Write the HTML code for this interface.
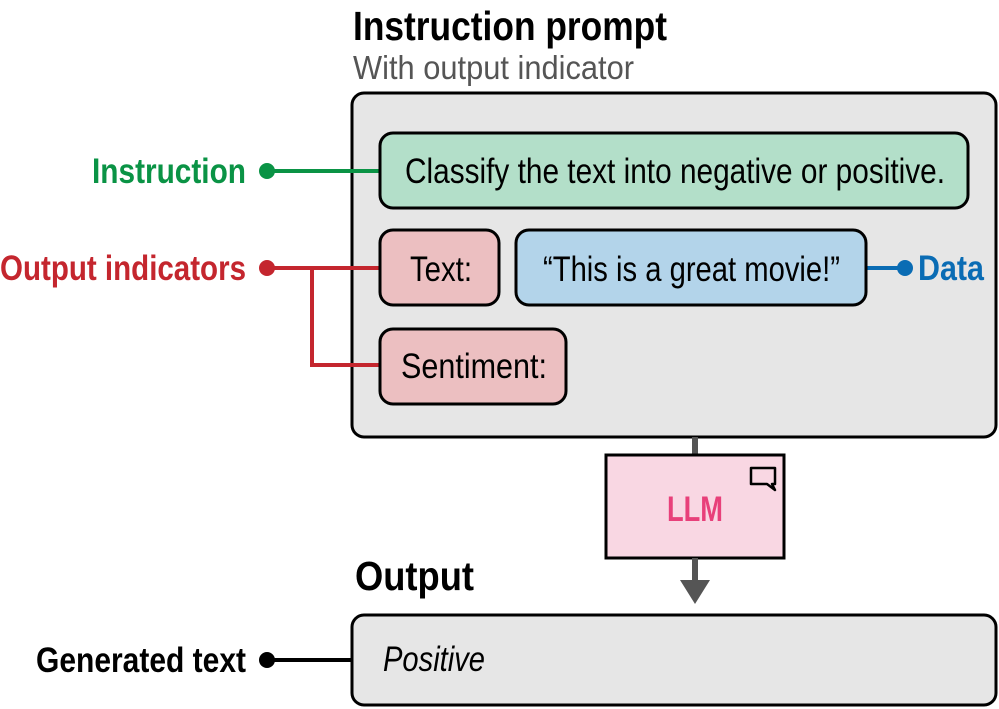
<!DOCTYPE html>
<html><head><style>html,body{margin:0;padding:0;background:#fff}svg{display:block}text{font-family:"Liberation Sans",sans-serif}</style></head>
<body>
<svg width="999" height="709" viewBox="0 0 999 709">
<text x="353" y="40" font-size="41" font-weight="bold" textLength="314" lengthAdjust="spacingAndGlyphs">Instruction prompt</text>
<text x="353" y="79" font-size="33" fill="#555" textLength="281" lengthAdjust="spacingAndGlyphs">With output indicator</text>
<rect x="352" y="93" width="644" height="344" rx="12" fill="#e6e6e6" stroke="#000" stroke-width="3"/>
<line x1="267" y1="171" x2="380" y2="171" stroke="#0a9345" stroke-width="4"/>
<circle cx="267" cy="171" r="8" fill="#0a9345"/>
<polyline points="267,268 380,268" stroke="#c4262e" stroke-width="4" fill="none"/>
<polyline points="312,268 312,365 380,365" stroke="#c4262e" stroke-width="4" fill="none"/>
<circle cx="267" cy="268" r="8" fill="#c4262e"/>
<line x1="866" y1="268" x2="905" y2="268" stroke="#0a6cb4" stroke-width="4"/>
<circle cx="905" cy="268" r="8" fill="#0a6cb4"/>
<line x1="267" y1="660" x2="352" y2="660" stroke="#000" stroke-width="4"/>
<circle cx="267" cy="660" r="8" fill="#000"/>
<text x="246" y="183" font-size="35" font-weight="bold" fill="#0a9345" text-anchor="end" textLength="154" lengthAdjust="spacingAndGlyphs">Instruction</text>
<text x="246" y="280" font-size="35" font-weight="bold" fill="#c4262e" text-anchor="end" textLength="246" lengthAdjust="spacingAndGlyphs">Output indicators</text>
<text x="918" y="280" font-size="35" font-weight="bold" fill="#0a6cb4" textLength="66" lengthAdjust="spacingAndGlyphs">Data</text>
<text x="246" y="672" font-size="35" font-weight="bold" fill="#000" text-anchor="end" textLength="210" lengthAdjust="spacingAndGlyphs">Generated text</text>
<rect x="380" y="133" width="588" height="75" rx="13" fill="#b3dfc9" stroke="#000" stroke-width="3"/>
<text x="405" y="183" font-size="35" textLength="540" lengthAdjust="spacingAndGlyphs">Classify the text into negative or positive.</text>
<rect x="380" y="230" width="119" height="75" rx="13" fill="#ecbfc1" stroke="#000" stroke-width="3"/>
<text x="410" y="281" font-size="35" textLength="62" lengthAdjust="spacingAndGlyphs">Text:</text>
<rect x="516" y="230" width="350" height="75" rx="13" fill="#b3d4ea" stroke="#000" stroke-width="3"/>
<text x="543" y="281" font-size="35" textLength="297" lengthAdjust="spacingAndGlyphs">“This is a great movie!”</text>
<rect x="380" y="329" width="186" height="75" rx="13" fill="#ecbfc1" stroke="#000" stroke-width="3"/>
<text x="401" y="378" font-size="35" textLength="146" lengthAdjust="spacingAndGlyphs">Sentiment:</text>
<line x1="695" y1="437" x2="695" y2="456" stroke="#555" stroke-width="6"/>
<rect x="606" y="455" width="178" height="103" fill="#f9d7e3" stroke="#000" stroke-width="3"/>
<text x="695" y="521" font-size="35" font-weight="bold" fill="#e8407a" text-anchor="middle" textLength="56" lengthAdjust="spacingAndGlyphs">LLM</text>
<path d="M751,468 H775 V484 H772 L775,490 L767,484 H751 Z" fill="none" stroke="#000" stroke-width="2.5" stroke-linejoin="round"/>
<line x1="695" y1="558" x2="695" y2="582" stroke="#555" stroke-width="6"/>
<polygon points="680,580 710,580 695,604" fill="#555"/>
<text x="355" y="590" font-size="41" font-weight="bold" textLength="119" lengthAdjust="spacingAndGlyphs">Output</text>
<rect x="352" y="615" width="644" height="90" rx="12" fill="#e6e6e6" stroke="#000" stroke-width="3"/>
<text x="383" y="671" font-size="35" font-style="italic" textLength="102" lengthAdjust="spacingAndGlyphs">Positive</text>
</svg>
</body></html>
